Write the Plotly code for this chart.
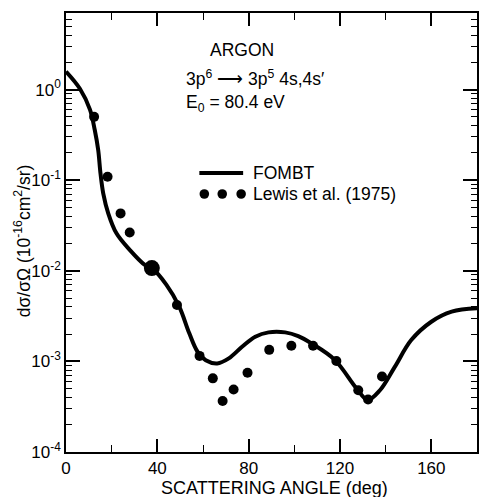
import plotly.graph_objects as go

# FOMBT theory curve
theory_angle = [0, 6.1, 10.5, 12.6, 14.1, 15.1, 16.3, 18.5, 22.1, 27.9, 34.5, 37.6, 44, 49.6, 54, 57.6, 61.2,
                66.2, 71.3, 77.1, 82.9, 88.7, 96, 101.7, 107.5, 117.7, 127.2, 132.1, 137.5, 144, 151.2,
                160, 168.9, 180]
theory_dcs = [1.58, 1.02, 0.60, 0.358, 0.215, 0.119, 0.0716, 0.0431, 0.0259, 0.017, 0.0116, 0.0107, 0.0070,
              0.00402, 0.00204, 0.00128, 0.00103, 0.00095, 0.00108, 0.00145, 0.00187, 0.00209, 0.00209,
              0.00190, 0.00158, 0.00104, 0.000505, 0.000375, 0.00048, 0.00087, 0.00172, 0.00274,
              0.00354, 0.00385]

# Lewis et al. (1975) measurements
exp_angle = [12.3, 18.2, 23.9, 27.9, 48.6, 58.5, 64.3, 68.6, 73.4, 79.5, 89, 98.7, 108.2, 118.4, 128, 132.3, 138.4]
exp_dcs = [0.50, 0.109, 0.043, 0.0264, 0.0042, 0.00115, 0.00065, 0.000366, 0.00049, 0.00075, 0.00134,
           0.00149, 0.00149, 0.00101, 0.00048, 0.00038, 0.00068]
# normalisation point (large dot)
norm_angle = [37.6]
norm_dcs = [0.0107]

x_ticks = [0, 40, 80, 120, 160]
y_ticks = [1e-4, 1e-3, 1e-2, 1e-1, 1e0]
y_tick_text = ["10<sup>-4</sup>", "10<sup>-3</sup>", "10<sup>-2</sup>", "10<sup>-1</sup>", "10<sup>0</sup>"]

FONT = "Liberation Sans"
W, H = 479, 497
L, R, T, B = 66, 0, 13, 45
PW, PH = W - L - R, H - T - B


def px(xp):
    return (xp - L) / PW


def py(yp):
    return (H - B - yp) / PH


fig = go.Figure()
fig.add_trace(go.Scatter(x=theory_angle, y=theory_dcs, mode="lines",
                         line=dict(color="black", width=4, shape="spline", smoothing=1.0),
                         showlegend=False))
fig.add_trace(go.Scatter(x=exp_angle, y=exp_dcs, mode="markers", marker=dict(color="black", size=10),
                         showlegend=False))
fig.add_trace(go.Scatter(x=norm_angle, y=norm_dcs, mode="markers", marker=dict(color="black", size=16),
                         showlegend=False))

axis_common = dict(showline=True, linecolor="black", linewidth=1.5, mirror="ticks", ticks="inside",
                   tickcolor="black", showgrid=False, zeroline=False,
                   tickfont=dict(family=FONT, size=17, color="black"))

fig.update_xaxes(range=[0, 180], tickvals=x_ticks, ticklen=13, tickwidth=1.5,
                 minor=dict(dtick=20, tick0=0, ticks="inside", ticklen=7, tickcolor="black", tickwidth=1.2),
                 **axis_common)
fig.update_yaxes(type="log", range=[-4, 0.845], tickvals=y_ticks, ticktext=y_tick_text, ticklen=14, tickwidth=1.5,
                 minor=dict(dtick="D1", ticks="inside", ticklen=6, tickcolor="black", tickwidth=1),
                 **axis_common)

txt = dict(family=FONT, size=17.5, color="black")
ann = [
    dict(x=px(209), y=py(50), text="ARGON", xanchor="left", yanchor="middle"),
    dict(x=px(185), y=py(78), text="3p<sup>6</sup> \u27f6 3p<sup>5</sup> 4s,4s\u2032", xanchor="left", yanchor="middle"),
    dict(x=px(185), y=py(103), text="E<sub>0</sub> = 80.4 eV", xanchor="left", yanchor="middle"),
    dict(x=px(252), y=py(173), text="FOMBT", xanchor="left", yanchor="middle"),
    dict(x=px(252), y=py(194), text="Lewis et al. (1975)", xanchor="left", yanchor="middle"),
    dict(x=px(276), y=py(488), text="SCATTERING ANGLE (deg)", xanchor="center", yanchor="middle",
         font=dict(family=FONT, size=18, color="black")),
    dict(x=px(22), y=py(241), text="d\u03c3/\u03c3\u03a9 (10<sup>-16</sup>cm<sup>2</sup>/sr)", textangle=-90,
         xanchor="center", yanchor="middle"),
]
for a in ann:
    a.update(xref="paper", yref="paper", showarrow=False)
    a.setdefault("font", txt)

shapes = [dict(type="line", xref="paper", yref="paper", x0=px(200), x1=px(244), y0=py(173), y1=py(173),
               line=dict(color="black", width=4))]
for cx in [205, 223, 242]:
    r = 4.8
    shapes.append(dict(type="circle", xref="paper", yref="paper", x0=px(cx - r), x1=px(cx + r),
                       y0=py(194 + r), y1=py(194 - r), fillcolor="black", line=dict(color="black", width=0)))

fig.update_layout(width=W, height=H, margin=dict(l=L, r=R, t=T, b=B), paper_bgcolor="white",
                  plot_bgcolor="white", annotations=ann, shapes=shapes, showlegend=False)

fig.write_html("out.html")
